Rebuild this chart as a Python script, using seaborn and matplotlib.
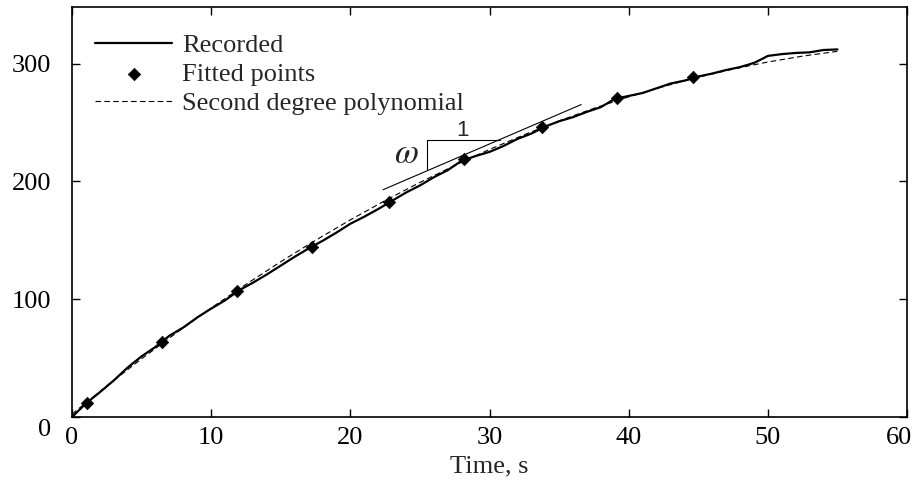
import numpy as np
import pandas as pd
import matplotlib
matplotlib.use("Agg")
import matplotlib.pyplot as plt
import matplotlib.transforms as mtransforms
import seaborn as sns

# ---- data ----
rec_t = [0, 1, 2, 3, 4, 5, 6, 7, 8, 9, 10, 11, 12, 13, 14, 15, 16, 17, 18, 19,
         20, 21, 22, 23, 24, 25, 26, 27, 28, 29, 30, 31, 32, 33, 34, 35, 36, 37,
         38, 39, 40, 41, 42, 43, 44, 45, 46, 47, 48, 49, 49.6, 50, 51, 52, 53, 54, 55]
rec_y = [0, 11.5, 21, 31, 42, 51.5, 59.5, 69, 76, 84.5, 92, 99, 107.5, 114, 121,
         128.5, 136, 143, 149.5, 156.5, 164, 170, 176.5, 183.5, 190.5, 196.5,
         203.5, 209.5, 217.5, 221.5, 225, 230, 236, 240.5, 246.5, 251, 254.5, 259,
         263, 270, 272.5, 275, 279, 283, 285.5, 289, 291.5, 294.5, 297, 300.5,
         304, 306.5, 308, 309, 309.5, 311.5, 312]

fit_t = [1.06, 6.44, 11.85, 17.28, 22.8, 28.16, 33.79, 39.15, 44.65]
fit_y = [12.2, 63.7, 106.7, 144.7, 182.1, 219.0, 246.2, 270.8, 288.7]

poly_t = [0, 2.5, 5, 7.5, 10, 12.5, 15, 17.5, 20, 22.5, 25, 27.5, 30, 32.5, 35,
          37.5, 40, 42.5, 45, 47.5, 50, 52.5, 55]
poly_y = [2.5, 26.4, 49.4, 71.4, 92.5, 112.6, 131.8, 150.0, 167.3, 183.7, 199.1,
          213.5, 227.1, 239.6, 251.3, 262.0, 271.7, 280.5, 288.4, 295.3, 301.3,
          306.3, 310.4]

tangent_t = [22.35, 36.59]
tangent_y = [192.9, 265.2]
bracket_t = [25.5, 25.5, 30.72]
bracket_y = [209.9, 235.4, 235.4]

x_ticks = [0, 10, 20, 30, 40, 50, 60]
y_ticks = [0, 100, 200, 300]
x_label = "Time, s"
legend_labels = ["Recorded", "Fitted points", "Second degree polynomial"]

# ---- styling ----
sns.set_theme(style="ticks")
plt.rcParams['font.family'] = ['Liberation Serif', 'DejaVu Serif']
plt.rcParams['mathtext.fontset'] = 'stix'
FS = 19

fig = plt.figure(figsize=(9.16, 4.83), dpi=100)
ax = fig.add_axes([72/916, 1-417/483, (907-72)/916, (417-7)/483])

rec_df = pd.DataFrame({"t": rec_t, "y": rec_y})
fit_df = pd.DataFrame({"t": fit_t, "y": fit_y})
poly_df = pd.DataFrame({"t": poly_t, "y": poly_y})

sns.lineplot(data=rec_df, x="t", y="y", ax=ax, color="black", lw=1.6,
             label=legend_labels[0], sort=False, estimator=None)
sns.scatterplot(data=fit_df, x="t", y="y", ax=ax, color="black", marker="D",
                s=40, edgecolor="black", linewidth=0.5, label=legend_labels[1], zorder=5)
sns.lineplot(data=poly_df, x="t", y="y", ax=ax, color="black", lw=0.8,
             dashes=False, label=legend_labels[2], sort=False, estimator=None)
ax.lines[-1].set_dashes([5, 3])

# tangent & slope bracket
ax.plot(tangent_t, tangent_y, color="black", lw=0.8)
ax.plot(bracket_t, bracket_y, color="black", lw=0.8)
ax.text(28.07, 243.5, "1", fontsize=16, family=['Liberation Sans', 'DejaVu Sans'],
        ha="center", va="center")
ax.text(24.0, 222.5, r"$\omega$", fontsize=25, ha="center", va="center")

ax.set_xlim(0, 60)
ax.set_ylim(0, 348)
ax.set_xticks(x_ticks)
ax.set_yticks(y_ticks)
ax.set_xticklabels([str(v) for v in x_ticks])
ax.set_yticklabels([str(v) for v in y_ticks])
ax.set_xlabel(x_label, fontsize=FS, labelpad=5)
ax.set_ylabel("")
ax.tick_params(direction="in", length=6, width=1, top=True, right=True,
               labelsize=FS, colors="black")
ax.tick_params(axis="x", pad=7)
ax.tick_params(axis="y", pad=15)
for sp in ax.spines.values():
    sp.set_visible(True)
    sp.set_linewidth(1.2)
    sp.set_color("black")

# the "0" on the y axis sits slightly lower in the reference
lab0 = ax.yaxis.get_major_ticks()[0].label1
lab0.set_transform(lab0.get_transform() +
                   mtransforms.ScaledTranslation(0, -11/100, fig.dpi_scale_trans))
# the "60" on the x axis sits slightly left of its tick
lab60 = ax.xaxis.get_major_ticks()[-1].label1
lab60.set_transform(lab60.get_transform() +
                    mtransforms.ScaledTranslation(-8/100, 0, fig.dpi_scale_trans))

leg = ax.legend(loc="upper left", bbox_to_anchor=(0.028, 0.935), frameon=False,
                fontsize=FS, borderaxespad=0, borderpad=0, handlelength=2.9,
                handletextpad=0.4, labelspacing=0.21)

fig.savefig("out.png", dpi=100)
